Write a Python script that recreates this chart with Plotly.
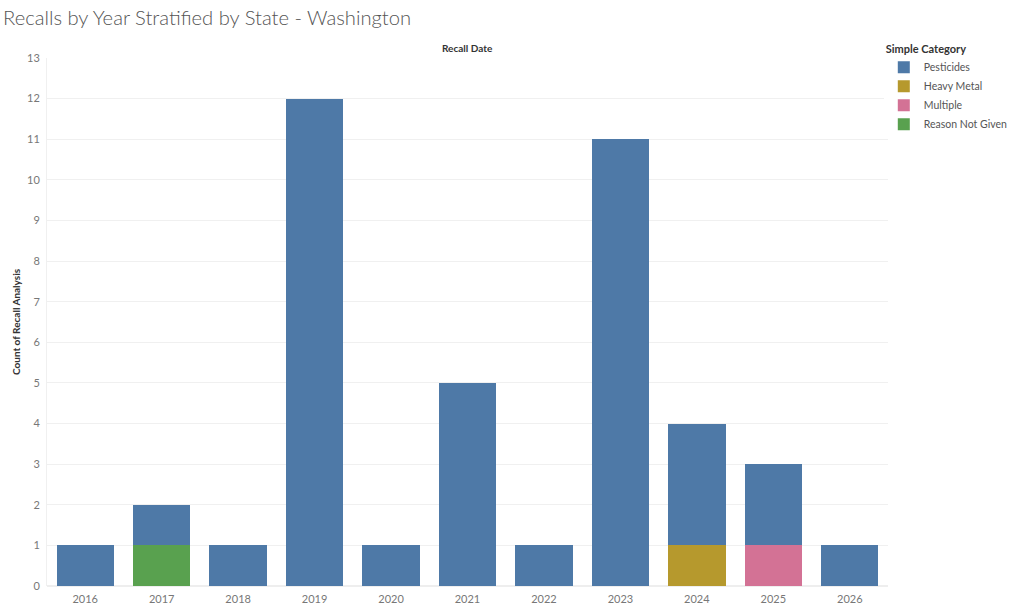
import plotly.graph_objects as go

years = ["2016", "2017", "2018", "2019", "2020", "2021", "2022", "2023", "2024", "2025", "2026"]
pesticides = [1, 1, 1, 12, 1, 5, 1, 11, 3, 2, 1]
heavy_metal = [0, 0, 0, 0, 0, 0, 0, 0, 1, 0, 0]
multiple = [0, 0, 0, 0, 0, 0, 0, 0, 0, 1, 0]
reason_not_given = [0, 1, 0, 0, 0, 0, 0, 0, 0, 0, 0]
y_ticks = list(range(0, 14))

colors = {
    "Pesticides": "#4e79a7",
    "Heavy Metal": "#b6992d",
    "Multiple": "#d37295",
    "Reason Not Given": "#59a14f",
}

fig = go.Figure()
# bottom segments first so that Pesticides stacks on top
for name, vals, rank in [("Reason Not Given", reason_not_given, 4),
                         ("Heavy Metal", heavy_metal, 2),
                         ("Multiple", multiple, 3),
                         ("Pesticides", pesticides, 1)]:
    fig.add_trace(go.Bar(
        x=years, y=vals, name=name, legendrank=rank,
        marker=dict(color=colors[name], line=dict(width=0)),
        width=0.75,
    ))

fig.update_layout(
    barmode="stack",
    width=1024, height=606,
    margin=dict(l=47, r=136, t=58, b=20, autoexpand=False),
    paper_bgcolor="white", plot_bgcolor="white",
    font=dict(family="Lato, Open Sans, sans-serif", color="#666666", size=11),
    title=dict(text="Recalls by Year Stratified by State - Washington",
               x=0.003, xanchor="left", y=0.97, yanchor="middle",
               font=dict(size=20.2, color="#555555", family="Lato, Open Sans, sans-serif", weight=300)),
    showlegend=True,
    legend=dict(x=0.995, xanchor="left", y=1.037, yanchor="top",
                traceorder="normal",
                title=dict(text="<b>Simple Category</b>", font=dict(size=11, color="#333333")),
                font=dict(size=10.5, color="#555555"),
                itemsizing="constant", tracegroupgap=0),
    bargap=0.25,
)
fig.update_xaxes(
    type="category", range=[-0.5, 10.5], automargin=False,
    showgrid=False, showline=False, ticks="",
    tickfont=dict(size=11, color="#777777"),
    ticklabelstandoff=5,
)
fig.update_yaxes(
    range=[0, 13], tickvals=y_ticks, automargin=False,
    showgrid=True, gridcolor="#f0f0f0", gridwidth=1,
    zeroline=True, zerolinecolor="#eeeeee",
    showline=True, linecolor="#f0f0f0",
    tickfont=dict(size=11, color="#777777"),
    ticks="", ticklabelstandoff=4,
)
fig.add_annotation(text="<b>Count of Recall Analysis</b>", xref="paper", yref="paper",
                   x=0, xshift=-39, y=0.5, textangle=-90, showarrow=False,
                   font=dict(size=10, color="#333333"))
fig.add_annotation(text="<b>Recall Date</b>", xref="paper", yref="paper",
                   x=0.5, y=1.0, yanchor="middle", yshift=10, showarrow=False,
                   font=dict(size=10, color="#333333"))

fig.write_html("out.html", config={"displayModeBar": False},
               post_script="document.body.style.margin='0';document.body.style.overflow='hidden';")
